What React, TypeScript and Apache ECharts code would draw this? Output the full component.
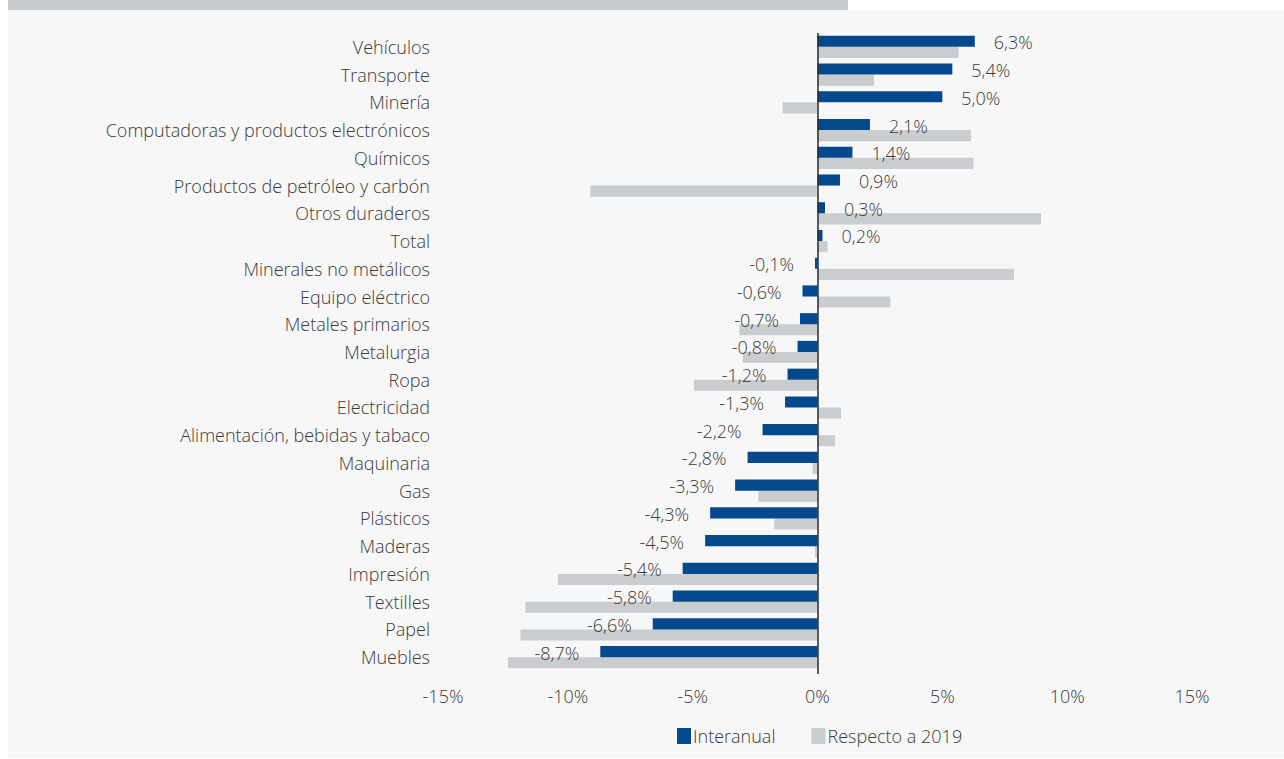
import React, { useEffect, useRef } from "react";
import * as echarts from "echarts";

const categories = [
  "Vehículos",
  "Transporte",
  "Minería",
  "Computadoras y productos electrónicos",
  "Químicos",
  "Productos de petróleo y carbón",
  "Otros duraderos",
  "Total",
  "Minerales no metálicos",
  "Equipo eléctrico",
  "Metales primarios",
  "Metalurgia",
  "Ropa",
  "Electricidad",
  "Alimentación, bebidas y tabaco",
  "Maquinaria",
  "Gas",
  "Plásticos",
  "Maderas",
  "Impresión",
  "Textilles",
  "Papel",
  "Muebles",
];

const interanual = [6.3, 5.4, 5.0, 2.1, 1.4, 0.9, 0.3, 0.2, -0.1, -0.6, -0.7, -0.8, -1.2, -1.3, -2.2, -2.8, -3.3, -4.3, -4.5, -5.4, -5.8, -6.6, -8.7];

const respecto2019 = [5.65, 2.27, -1.4, 6.15, 6.25, -9.1, 8.95, 0.4, 7.87, 2.92, -3.13, -3.0, -4.95, 0.94, 0.7, -0.2, -2.37, -1.73, -0.1, -10.4, -11.7, -11.9, -12.4];

const xTicks = [-15, -10, -5, 0, 5, 10, 15];

const FONT = "Open Sans";
const TEXT = "#3a3a3a";
const BLUE = "#04498d";
const GRAY = "#c9cdd0";

export default function App() {
  const ref = useRef<HTMLDivElement>(null);
  useEffect(() => {
    document.body.style.margin = "0";
    const chart = echarts.init(ref.current!, null, { renderer: "svg" });
    const fmt = (v: number) => v.toFixed(1).replace(".", ",") + "%";
    chart.setOption({
      animation: false,
      backgroundColor: "#ffffff",
      textStyle: { fontFamily: FONT },
      graphic: [
        { type: "rect", z: -10, shape: { x: 8, y: 10, width: 1276, height: 748 }, style: { fill: "#f7f7f7" }, silent: true },
        { type: "rect", z: -10, shape: { x: 8, y: 0, width: 840, height: 10 }, style: { fill: "#c8cccf" }, silent: true },
      ],
      legend: {
        bottom: 9,
        left: 672,
        itemWidth: 14,
        itemHeight: 16,
        itemGap: 36,
        icon: "rect",
        textStyle: { fontFamily: FONT, fontSize: 18, fontWeight: 300, color: TEXT, padding: [0, 0, 0, -3] },
        data: ["Interanual", "Respecto a 2019"],
      },
      grid: { left: 443, right: 92, top: 33, bottom: 88, containLabel: false },
      xAxis: {
        type: "value",
        min: -15,
        max: 15,
        interval: 5,
        axisLine: { show: false },
        axisTick: { show: false },
        splitLine: { show: false },
        axisLabel: {
          margin: 16,
          fontFamily: FONT,
          fontSize: 18,
          fontWeight: 300,
          color: TEXT,
          formatter: (v: number) => (xTicks.includes(v) ? v + "%" : ""),
        },
      },
      yAxis: {
        type: "category",
        inverse: true,
        data: categories,
        axisLine: { show: false, onZero: false },
        axisTick: { show: false },
        axisLabel: { margin: 13, fontFamily: FONT, fontSize: 18, fontWeight: 300, color: TEXT },
      },
      series: [
        {
          name: "Interanual",
          type: "bar",
          barGap: "0%",
          barCategoryGap: "20%",
          itemStyle: { color: BLUE },
          data: interanual.map((v) => ({
            value: v,
            label: {
              show: true,
              position: v >= 0 ? "right" : "left",
              distance: v >= 0 ? 19 : 21,
              offset: [0, 1],
              formatter: () => fmt(v),
              fontFamily: FONT,
              fontSize: 18,
              fontWeight: 300,
              color: TEXT,
            },
          })),
          markLine: {
            silent: true,
            symbol: "none",
            label: { show: false },
            lineStyle: { color: "#2a2a2a", type: "solid", width: 1.5 },
            data: [
              [
                { coord: [0, categories[0]], y: 33 },
                { coord: [0, categories[0]], y: 674 },
              ],
            ],
          },
          z: 3,
        },
        {
          name: "Respecto a 2019",
          type: "bar",
          barGap: "0%",
          barCategoryGap: "20%",
          itemStyle: { color: GRAY },
          data: respecto2019,
          z: 2,
        },
      ],
    });
    return () => chart.dispose();
  }, []);
  return <div ref={ref} style={{ width: 1284, height: 759 }} />;
}
